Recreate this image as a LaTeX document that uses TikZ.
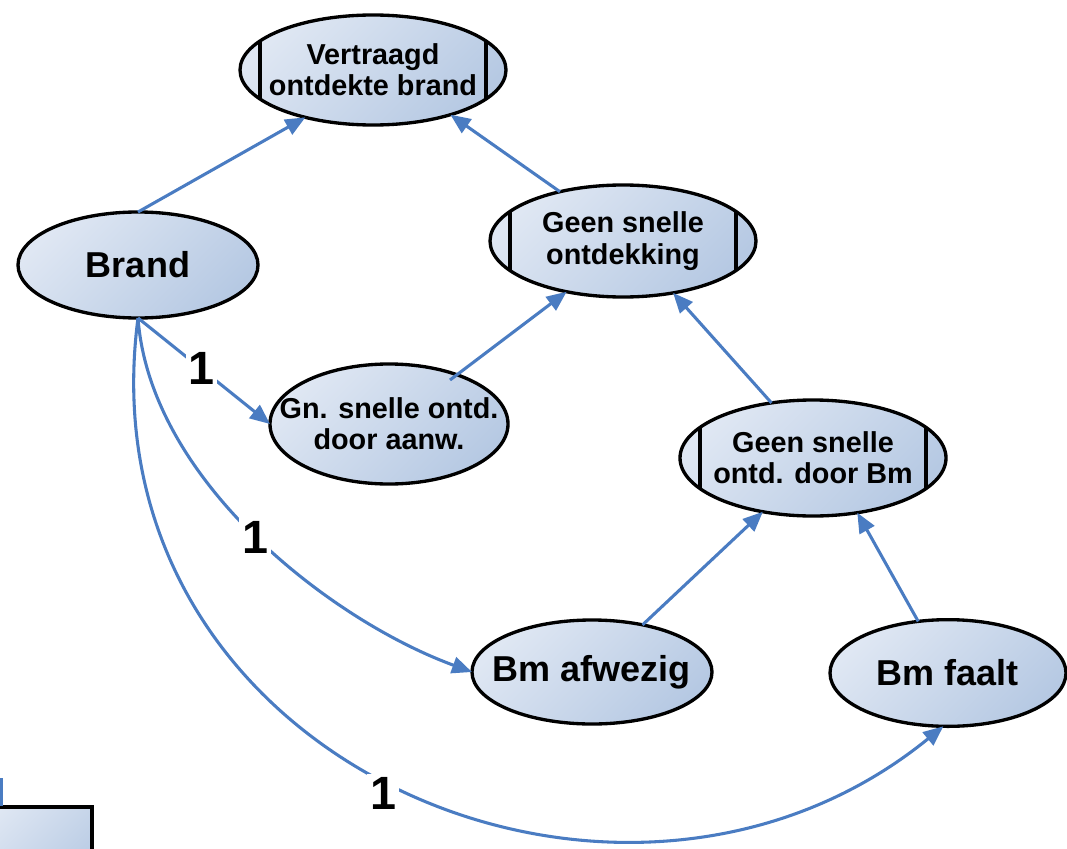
\documentclass[tikz,border=0pt]{standalone}
\usepackage{fontspec}
\setmainfont{Liberation Sans}
\usetikzlibrary{shapes.geometric,arrows.meta,calc}
\definecolor{edgeblue}{HTML}{4A7CC2}
\definecolor{filllight}{HTML}{DFE7F3}
\definecolor{filldark}{HTML}{B6C9E3}
\tikzset{
  state/.style={ellipse, draw=black, line width=2.5pt, top color=filllight, bottom color=filldark, shading angle=45,
    inner xsep=-40pt, inner ysep=-20pt, outer sep=0pt, align=center, text=black},
  smalltxt/.style={font=\fontsize{21.6pt}{23.5pt}\selectfont\bfseries},
  bigtxt/.style={font=\fontsize{27pt}{30pt}\selectfont\bfseries},
  conn/.style={draw=edgeblue, line width=2.3pt, -{Triangle[length=15pt,width=12.5pt]}},
  plainconn/.style={draw=edgeblue, line width=2.3pt},
  bar/.style={draw=black, line width=2.5pt},
  numlabel/.style={fill=white, inner sep=2pt, font=\fontsize{35pt}{35pt}\selectfont\bfseries},
}
\begin{document}
\begin{tikzpicture}[x=0.75pt,y=-0.75pt]
\useasboundingbox (0,0) rectangle (1067,849);
\clip (0,0) rectangle (1067,849);

% partial shape bottom-left
\draw[line width=3pt, top color=filllight, bottom color=filldark, shading angle=45] (-30,807) rectangle (92,900);
\draw[plainconn] (1.3,778) -- (1.3,806);

\node[state, smalltxt, minimum width=199.5pt, minimum height=82.5pt] (vd) at (373,70) {Vertraagd\\ontdekte brand};
\node[state, smalltxt, minimum width=199.5pt, minimum height=84pt] (gso) at (623,241) {Geen snelle\\ontdekking};
\node[state, bigtxt, minimum width=180pt, minimum height=79.5pt] (brand) at (138,265) {Brand};
\node[state, smalltxt, minimum width=178.5pt, minimum height=90pt] (gn) at (389,424) {Gn. snelle ontd.\\door aanw.};
\node[state, smalltxt, minimum width=199.5pt, minimum height=87pt] (gbm) at (813,458) {Geen snelle\\ontd. door Bm};
\node[state, bigtxt, minimum width=180pt, minimum height=78pt] (bma) at (592,672) {Bm afwezig};
\node[state, bigtxt, minimum width=177pt, minimum height=80pt] (bmf) at (948,673) {Bm faalt};

% bars inside double-bordered ellipses
\foreach \n/\h in {vd/29, gso/29.5, gbm/30.5}{
  \draw[bar] ($(\n.center)+(-113,-\h)$) -- ($(\n.center)+(-113,\h)$);
  \draw[bar] ($(\n.center)+(113,-\h)$) -- ($(\n.center)+(113,\h)$);
}

% connectors
\draw[conn] (brand.north) -- (vd.215);
\draw[conn] (gso.142) -- (vd.330);
\draw[conn] ($(gn.center)+(61,-44)$) -- (gso.222);
\draw[conn] (gbm.127) -- (gso.314);
\draw[conn] (bma.43) -- (gbm.227);
\draw[conn] (bmf.120) -- (gbm.309);

\draw[conn] (brand.south) -- node[numlabel, pos=0.48] (l1) {1} (gn.west);
\draw[conn] (brand.south) .. controls (150,480) and (330,620) .. (bma.west);
\draw[conn] (brand.south) .. controls (80,760) and (620,990) .. (bmf.265);
\node[numlabel] (l2) at (255,537) {1};
\node[numlabel] (l3) at (383,793) {1};
\end{tikzpicture}
\end{document}
